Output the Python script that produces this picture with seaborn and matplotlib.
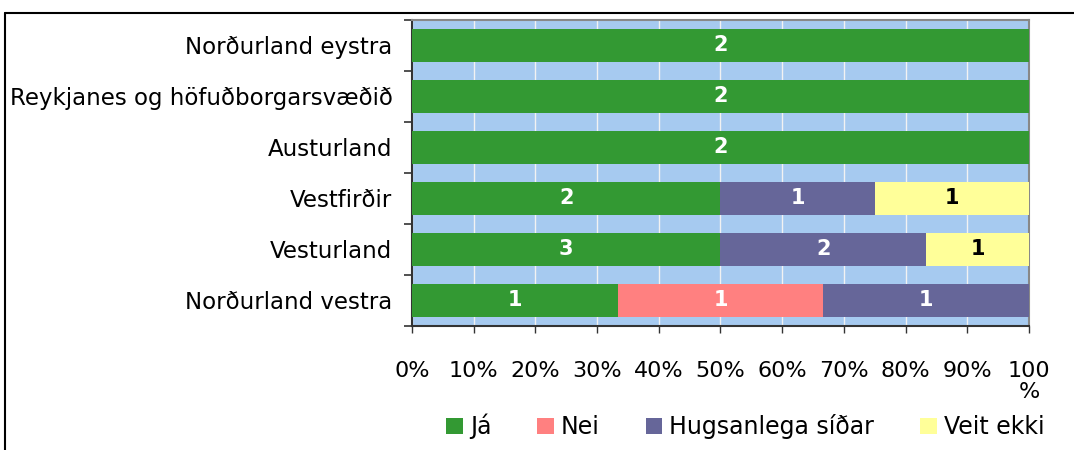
import numpy as np
import pandas as pd
import seaborn as sns
import matplotlib.pyplot as plt
from matplotlib.lines import Line2D
from matplotlib.patches import Patch

# Chart data (counts per answer)
regions = ['Norðurland eystra', 'Reykjanes og höfuðborgarsvæðið', 'Austurland',
           'Vestfirðir', 'Vesturland', 'Norðurland vestra']
answers = ['Já', 'Nei', 'Hugsanlega síðar', 'Veit ekki']
ja = [2, 2, 2, 2, 3, 1]
nei = [0, 0, 0, 0, 0, 1]
hugsanlega = [0, 0, 0, 1, 2, 1]
veit_ekki = [0, 0, 0, 1, 1, 0]
colors = ['#339933', '#FF8080', '#666699', '#FFFF99']
label_colors = ['white', 'white', 'white', 'black']
xtick_labels = ['0%', '10%', '20%', '30%', '40%', '50%', '60%', '70%', '80%', '90%', '100\n%']

counts = pd.DataFrame({'Já': ja, 'Nei': nei, 'Hugsanlega síðar': hugsanlega,
                       'Veit ekki': veit_ekki}, index=regions)
share = counts.div(counts.sum(axis=1), axis=0)
cum = share.cumsum(axis=1)
cum['Region'] = regions

sns.set_style('white')
plt.rcParams['font.family'] = ['DejaVu Sans']
plt.rcParams['text.color'] = 'black'
plt.rcParams['xtick.color'] = 'black'
plt.rcParams['ytick.color'] = 'black'

fig = plt.figure(figsize=(10.74, 4.5), dpi=100)
ax = fig.add_axes([0.3836, 0.2756, 0.958 - 0.3836, 0.9556 - 0.2756])
ax.set_facecolor('#A6CAF0')

# Overlay cumulative bars, largest first -> stacked look
for ans, col in reversed(list(zip(answers, colors))):
    sns.barplot(data=cum, x=ans, y='Region', color=col, width=0.65,
                saturation=1, edgecolor='none', linewidth=0, ax=ax, zorder=3)

# Segment labels
for i, reg in enumerate(regions):
    left = 0.0
    for ans, lc in zip(answers, label_colors):
        w = share.loc[reg, ans]
        if counts.loc[reg, ans] > 0:
            ax.text(left + w / 2, i, str(counts.loc[reg, ans]), ha='center', va='center',
                    color=lc, fontsize=15, fontweight='bold', zorder=5)
        left += w

ax.set_xlim(0, 1)
ax.set_ylim(len(regions) - 0.5, -0.5)
ax.set_xticks(np.linspace(0, 1, 11))
ax.set_xticklabels(xtick_labels, fontsize=16, linespacing=1.1)
ax.set_xlabel('')
ax.set_ylabel('')
ax.xaxis.grid(True, color='#F2F2F2', linewidth=1.0, zorder=1)
ax.set_axisbelow(True)
ax.tick_params(axis='x', bottom=True, direction='out', length=5, width=1, color='#333333', pad=20)
ax.tick_params(axis='y', which='major', left=True, length=0, pad=14, labelsize=16.5)
ax.set_yticks(np.arange(-0.5, len(regions), 1), minor=True)
ax.tick_params(axis='y', which='minor', left=True, direction='out', length=6, width=1.2,
               color='#333333')

for side in ['left', 'bottom']:
    ax.spines[side].set_color('#333333')
    ax.spines[side].set_linewidth(1.5)
for side in ['top', 'right']:
    ax.spines[side].set_color('#888888')
    ax.spines[side].set_linewidth(1.5)

handles = [Patch(facecolor=c, edgecolor='none') for c in colors]
fig.legend(handles, answers, loc='center', bbox_to_anchor=(0.694, 0.052), ncol=4,
           frameon=False, fontsize=17, handlelength=0.7, handleheight=0.7,
           handletextpad=0.3, columnspacing=1.95)

# Outer chart frame (left and top edges visible)
fig.add_artist(Line2D([5 / 1074, 5 / 1074], [0, 1 - 13 / 450], color='black', lw=1.5,
                      transform=fig.transFigure))
fig.add_artist(Line2D([5 / 1074, 1], [1 - 13 / 450, 1 - 13 / 450], color='black', lw=1.5,
                      transform=fig.transFigure))

fig.savefig('out.png', dpi=100)
